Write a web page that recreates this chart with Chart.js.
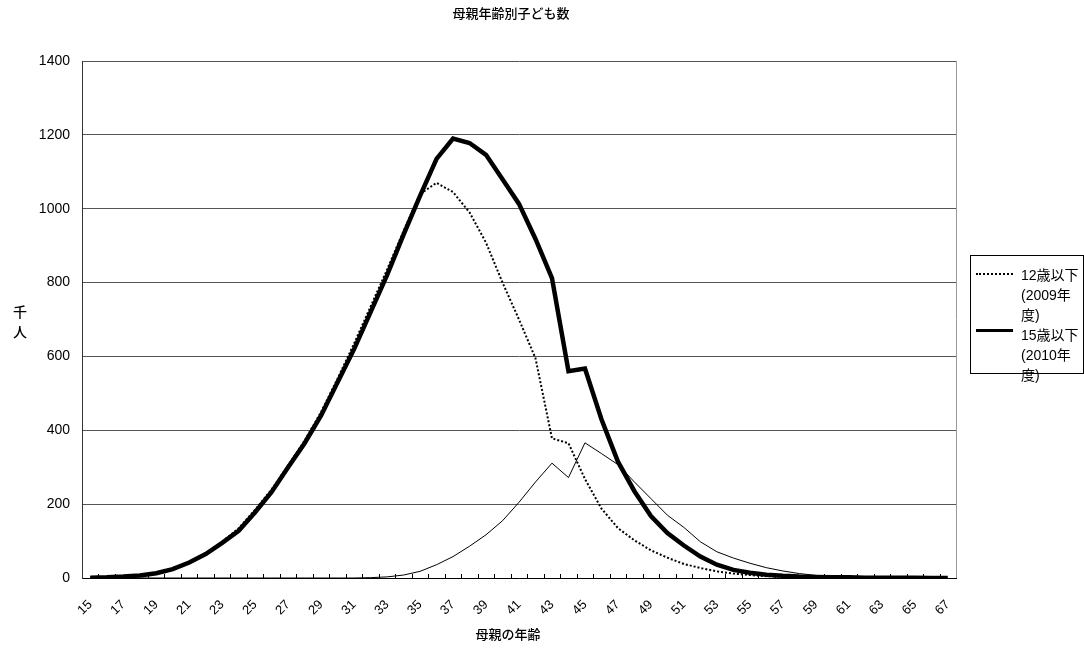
<!DOCTYPE html>
<html lang="ja">
<head>
<meta charset="utf-8">
<title>母親年齢別子ども数</title>
<script src="https://cdn.jsdelivr.net/npm/chart.js@4.4.1/dist/chart.umd.min.js"></script>
<style>
    html, body { margin: 0; padding: 0; background: #fff; }
    #wrap { position: relative; width: 1084px; height: 648px; overflow: hidden; }
    #legend {
        position: absolute; left: 970px; top: 255px; width: 114px; height: 119px;
        box-sizing: border-box; border: 1px solid #000; background: #fff;
        padding-top: 9px;
        font: 14px "Liberation Sans", "Noto Sans CJK JP", sans-serif; line-height: 20px; color: #000;
    }
    .item { display: flex; align-items: flex-start; }
    .sample { width: 37px; margin-left: 5px; margin-right: 8px; margin-top: 8px; }
    .text { width: 60px; }
</style>
</head>
<body>
<div id="wrap">
    <canvas id="chart" width="1084" height="648"></canvas>
    <div id="legend"></div>
</div>
<script>
// 母親の年齢
const ages = [15, 16, 17, 18, 19, 20, 21, 22, 23, 24, 25, 26, 27, 28, 29, 30, 31, 32, 33, 34,
    35, 36, 37, 38, 39, 40, 41, 42, 43, 44, 45, 46, 47, 48, 49, 50, 51, 52, 53, 54,
    55, 56, 57, 58, 59, 60, 61, 62, 63, 64, 65, 66, 67];

// 12歳以下 (2009年度), 千人
const under12_2009 = [1, 2, 4, 7, 13, 25, 43, 67, 98, 135,
    185, 240, 305, 372, 450, 540, 635, 735, 835, 940,
    1040, 1070, 1045, 990, 908, 800, 700, 595, 378, 365,
    268, 188, 135, 102, 75, 55, 38, 27, 18, 12,
    8, 5, 3, 2, 1, 1, 0, 0, 0, 0,
    0, 0, 0];

// 15歳以下 (2010年度), 千人
const under15_2010 = [1, 2, 4, 7, 13, 24, 42, 65, 95, 128,
    178, 233, 300, 365, 440, 530, 620, 720, 820, 930,
    1035, 1135, 1190, 1178, 1146, 1080, 1013, 918, 812, 560,
    567, 430, 315, 235, 168, 122, 88, 58, 36, 22,
    14, 9, 6, 4, 3, 2, 2, 1, 1, 1,
    1, 0, 0];

// 凡例なしの細線
const series3 = [0, 0, 0, 0, 0, 0, 0, 0, 0, 0,
    0, 0, 0, 0, 0, 0, 0, 1, 3, 8,
    18, 36, 58, 86, 117, 155, 205, 260, 311, 272,
    366, 337, 307, 260, 215, 170, 137, 98, 71, 54,
    40, 28, 19, 12, 7, 4, 3, 2, 1, 1,
    0, 0, 0];

const yTicks = [0, 200, 400, 600, 800, 1000, 1200, 1400];

const FONT = '"Liberation Sans", "Noto Sans CJK JP", sans-serif';

// titles, inner tick marks and the right frame line
const decorations = {
    id: 'decorations',
    afterDraw(chart) {
        const { ctx, chartArea: a, scales: { x } } = chart;
        ctx.save();

        ctx.strokeStyle = '#999';
        ctx.lineWidth = 1;
        ctx.beginPath();
        ctx.moveTo(Math.round(a.right) + 0.5, a.top);
        ctx.lineTo(Math.round(a.right) + 0.5, a.bottom);
        ctx.stroke();

        // small tick marks between categories, pointing up
        const step = x.width / ages.length;
        ctx.strokeStyle = '#000';
        ctx.beginPath();
        for (let i = 1; i < ages.length; i++) {
            const px = Math.round(x.getPixelForValue(i) - step / 2) + 0.5;
            ctx.moveTo(px, a.bottom);
            ctx.lineTo(px, a.bottom - 4);
        }
        ctx.stroke();

        ctx.fillStyle = '#000';
        ctx.textAlign = 'center';
        ctx.textBaseline = 'middle';

        ctx.font = '500 13px ' + FONT;
        ctx.fillText('母親年齢別子ども数', 511, 14);
        ctx.fillText('母親の年齢', 508, 635);

        ctx.font = '500 14px ' + FONT;
        ctx.fillText('千', 20, 313);
        ctx.fillText('人', 20, 333);

        ctx.restore();
    }
};

const ctx = document.getElementById('chart').getContext('2d');
const chart = new Chart(ctx, {
    type: 'line',
    data: {
        labels: ages,
        datasets: [
            {
                label: '系列3',
                data: series3,
                borderColor: '#000',
                borderWidth: 1,
                inLegend: false
            },
            {
                label: '12歳以下(2009年度)',
                data: under12_2009,
                borderColor: '#000',
                borderWidth: 2,
                borderDash: [2, 2],
                inLegend: true
            },
            {
                label: '15歳以下(2010年度)',
                data: under15_2010,
                borderColor: '#000',
                borderWidth: 4.5,
                inLegend: true
            }
        ]
    },
    options: {
        responsive: false,
        animation: false,
        events: [],
        elements: {
            point: { radius: 0 },
            line: { tension: 0, fill: false, borderCapStyle: 'butt', borderJoinStyle: 'miter' }
        },
        layout: { padding: { top: 61, right: 128, bottom: 0, left: 0 } },
        plugins: {
            legend: { display: false },
            title: { display: false },
            tooltip: { enabled: false }
        },
        scales: {
            x: {
                type: 'category',
                offset: true,
                grid: { display: false, drawTicks: false },
                border: { color: '#000', width: 1 },
                ticks: {
                    autoSkip: false,
                    minRotation: 45,
                    maxRotation: 45,
                    padding: 19,
                    color: '#000',
                    font: { family: FONT, size: 13 },
                    callback: (value, index) => (ages[index] % 2 === 1 ? String(ages[index]) : '')
                },
                afterFit: (scale) => { scale.height = 70; }
            },
            y: {
                min: 0,
                max: 1400,
                afterBuildTicks: (scale) => { scale.ticks = yTicks.map(v => ({ value: v })); },
                grid: { color: '#555', drawTicks: false },
                border: { color: '#333', width: 1 },
                ticks: {
                    padding: 12,
                    color: '#000',
                    font: { family: FONT, size: 14 },
                    callback: (value) => String(value)
                },
                afterFit: (scale) => { scale.width = 82; }
            }
        }
    },
    plugins: [decorations]
});

// legend built from the datasets (wrapped text like the original)
const legend = document.getElementById('legend');
chart.data.datasets.filter(ds => ds.inLegend).forEach(ds => {
    const item = document.createElement('div');
    item.className = 'item';
    const sample = document.createElement('span');
    sample.className = 'sample';
    if (ds.borderDash) {
        sample.style.borderTop = '2px dotted #000';
    } else {
        sample.style.borderTop = '3px solid #000';
        sample.style.marginTop = '4px';
    }
    const text = document.createElement('span');
    text.className = 'text';
    text.textContent = ds.label;
    item.appendChild(sample);
    item.appendChild(text);
    legend.appendChild(item);
});
</script>
</body>
</html>
